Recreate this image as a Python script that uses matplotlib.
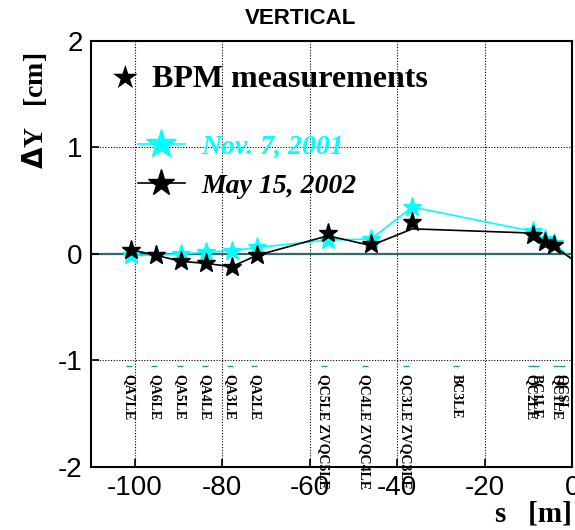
import matplotlib
matplotlib.use('Agg')
import matplotlib.pyplot as plt
from matplotlib.lines import Line2D

# BPM positions [m] and measured vertical offsets [cm]
s_bpm = [-100.9, -95.0, -89.3, -83.6, -77.8, -72.1, -55.8, -46.0, -36.5, -8.9, -6.2, -4.1]
dy_nov = [-0.015, -0.01, 0.0, 0.015, 0.03, 0.06, 0.13, 0.14, 0.44, 0.21, 0.14, 0.10]
dy_may = [0.04, -0.015, -0.07, -0.09, -0.12, -0.015, 0.20, 0.09, 0.30, 0.18, 0.11, 0.08]

# connecting curves (end at the IP side)
s_line = [-100.9, -95.0, -89.3, -83.6, -77.8, -72.1, -55.8, -46.0, -36.5, -8.9, -6.2, -4.1, 0.0]
nov_line = [-0.015, -0.01, 0.0, 0.015, 0.03, 0.06, 0.13, 0.14, 0.44, 0.21, 0.14, 0.10, -0.05]
may_line = [0.04, -0.015, -0.07, -0.09, -0.12, -0.015, 0.17, 0.078, 0.235, 0.195, 0.11, 0.07, -0.05]

# magnet names and positions
mag_names = ['QA7LE', 'QA6LE', 'QA5LE', 'QA4LE', 'QA3LE', 'QA2LE',
             'QC5LE ZVQC5LE', 'QC4LE ZVQC4LE', 'QC3LE ZVQC3LE', 'BC3LE',
             'QC2LE', 'BC1LE', 'QC1LE', 'QCSL']
mag_s = [-101.3, -95.5, -89.6, -84.0, -78.2, -72.6,
         -56.8, -47.4, -38.0, -26.5,
         -9.5, -8.3, -3.6, -2.3]

xticks = [-100, -80, -60, -40, -20, 0]
yticks = [-2, -1, 0, 1, 2]

serif = 'Liberation Serif'
sans = 'Liberation Sans'

fig = plt.figure(figsize=(5.75, 5.3), dpi=100)
ax = fig.add_axes([0.158, 0.119, 0.837, 0.804])

ax.set_xlim(-110, 0)
ax.set_ylim(-2, 2)

# grid
for x in [-100, -80, -60, -40, -20]:
    ax.axvline(x, color='black', ls=(0, (1, 1.5)), lw=0.8, zorder=1)
for y in [-1, 1]:
    ax.axhline(y, color='black', ls=(0, (1, 1.5)), lw=0.8, zorder=1)
ax.axhline(0, color='#2e6b6b', lw=1.6, zorder=1)

ax.plot(s_line, nov_line, color='cyan', lw=1.2, zorder=2)
ax.plot(s_bpm, dy_nov, ls='none', marker='*', ms=14, color='cyan', zorder=3)
ax.plot(s_line, may_line, color='black', lw=1.2, zorder=4)
ax.plot(s_bpm, dy_may, ls='none', marker='*', ms=14, color='black', zorder=5)

# magnet markers and labels
ax.plot(mag_s, [-1.05] * len(mag_s), ls='none', marker='_', ms=4, color='#1a9a9a', zorder=2)
for name, s in zip(mag_names, mag_s):
    ax.text(s, -1.13, name, rotation=-90, ha='center', va='top', fontsize=10,
            family=serif, fontweight='bold', clip_on=False)

ax.set_xticks(xticks)
ax.set_yticks(yticks)
ax.set_xticklabels([str(t) for t in xticks], family=sans, fontsize=20)
ax.set_yticklabels([str(t) for t in yticks], family=sans, fontsize=20)
ax.tick_params(direction='in', length=6, width=1.2, pad=6)
for sp in ax.spines.values():
    sp.set_linewidth(1.5)

fig.text(0.522, 0.965, 'VERTICAL', family=sans, fontweight='bold', fontsize=16,
         ha='center', va='center')

fig.text(0.995, 0.005, 's   [m]', ha='right', va='bottom', family=serif,
         fontweight='bold', fontsize=21)
fig.text(0.06, 0.79, r'$\mathbf{\Delta}$Y   [cm]', rotation=90, ha='center', va='center',
         family=serif, fontweight='bold', fontsize=20)

# BPM header
ax.text(0.042, 0.91, '\u2605', transform=ax.transAxes, family='DejaVu Sans',
        fontsize=23, ha='left', va='center')
ax.text(0.128, 0.91, 'BPM measurements', transform=ax.transAxes, family=serif,
        fontweight='bold', fontsize=23, ha='left', va='center')

handles = [Line2D([], [], color='cyan', marker='*', ms=22, lw=1.2),
           Line2D([], [], color='black', marker='*', ms=20, lw=1.2)]
leg = ax.legend(handles, ['Nov. 7, 2001', 'May 15, 2002'], loc='upper left',
                bbox_to_anchor=(0.045, 0.84), frameon=False, handlelength=1.7,
                handletextpad=0.6, labelspacing=0.5,
                prop={'family': serif, 'weight': 'bold', 'style': 'italic', 'size': 20})
leg.get_texts()[0].set_color('cyan')

fig.savefig('out.png', dpi=100)
